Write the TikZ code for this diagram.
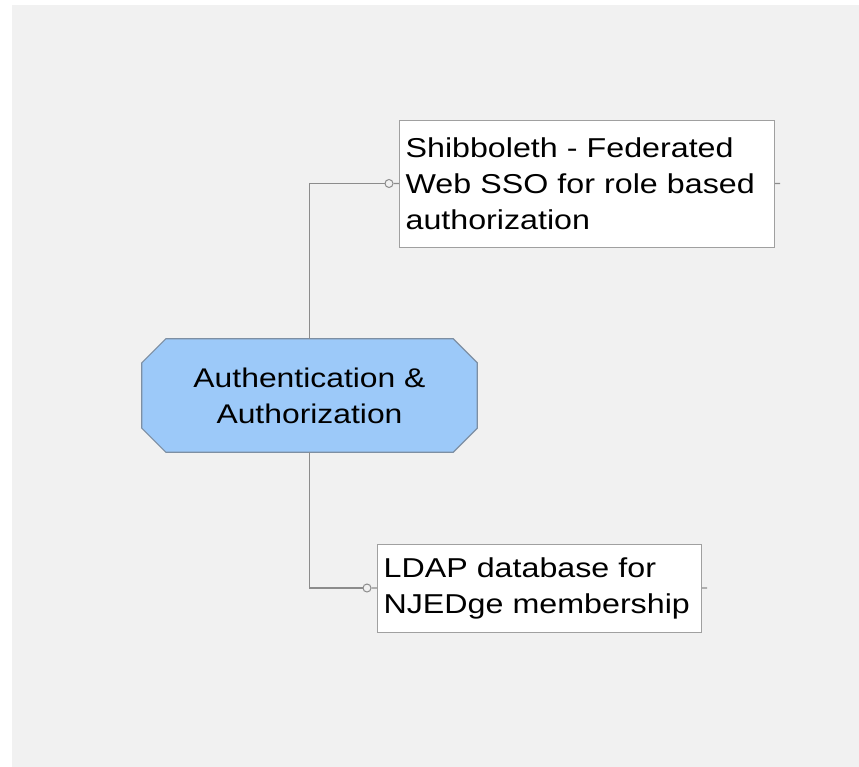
\documentclass[tikz,border=0pt]{standalone}
\usepackage{fontspec}
\setmainfont{Liberation Sans}[FakeStretch=1.18]
\usetikzlibrary{backgrounds}
\definecolor{pagegrey}{HTML}{F1F1F1}
\definecolor{linegrey}{HTML}{8C8C8C}
\definecolor{boxgrey}{HTML}{A0A0A0}
\definecolor{hubblue}{HTML}{9CC9F9}
\definecolor{hubedge}{HTML}{7D8FA3}
\begin{document}
\begin{tikzpicture}
[x=1pt,y=-1pt,
  hubdecorate/.style={shape=rectangle,minimum width=335pt,minimum height=113pt,
    inner sep=0pt,align=center,font=\fontsize{27}{36}\selectfont},%
  octdecorate/.style={draw=hubedge,fill=hubblue,line width=1.2pt},%
  boxdecorate/.style={shape=rectangle,draw=boxgrey,fill=white,line width=1.2pt,
    anchor=north west,inner xsep=6pt,inner ysep=4pt,align=left,
    font=\fontsize{27.3}{36}\selectfont},%
  dotdecorate/.style={shape=circle,draw=linegrey,fill=pagegrey,line width=1pt,
    minimum size=8pt,inner sep=0pt},%
  linedecorate/.style={-,draw=linegrey,line width=1.2pt}]
\useasboundingbox (0,0) rectangle (859,767);
%% nodes or boxes
\node (auth) at (309.5,395.5) [hubdecorate] {Authentication \&\\Authorization};
\node (shib) at (399,120) [boxdecorate,text width=363pt,minimum height=127pt]
  {Shibboleth - Federated\\Web SSO for role based\\authorization};
\node (ldap) at (377,544) [boxdecorate,text width=312pt,minimum height=88pt]
  {LDAP database for\\NJEDge membership};
\node (shibdot) at (389,183.5) [dotdecorate] {};
\node (ldapdot) at (367,588) [dotdecorate] {};
\coordinate (shibstub) at (780,183.5);
\coordinate (ldapstub) at (707,588);
%% connectors
\draw[linedecorate] (auth) |- (shibdot);
\draw[linedecorate] (auth) |- (ldapdot);
\path
\foreach \startnode/\endnode in {shibdot/shib, ldapdot/ldap, shib/shibstub,
  ldap/ldapstub} {
  (\startnode) edge[linedecorate] (\endnode)
};
%% page and cut corners of the hub
\begin{scope}[on background layer]
\fill[white] (0,0) rectangle (859,767);
\fill[pagegrey] (12,5) rectangle (859,767);
\draw[octdecorate] ([xshift=24pt]auth.north west) -- ([xshift=-24pt]auth.north east)
  -- ([yshift=-24pt]auth.north east) -- ([yshift=24pt]auth.south east)
  -- ([xshift=-24pt]auth.south east) -- ([xshift=24pt]auth.south west)
  -- ([yshift=24pt]auth.south west) -- ([yshift=-24pt]auth.north west) -- cycle;
\end{scope}
\end{tikzpicture}
\end{document}
